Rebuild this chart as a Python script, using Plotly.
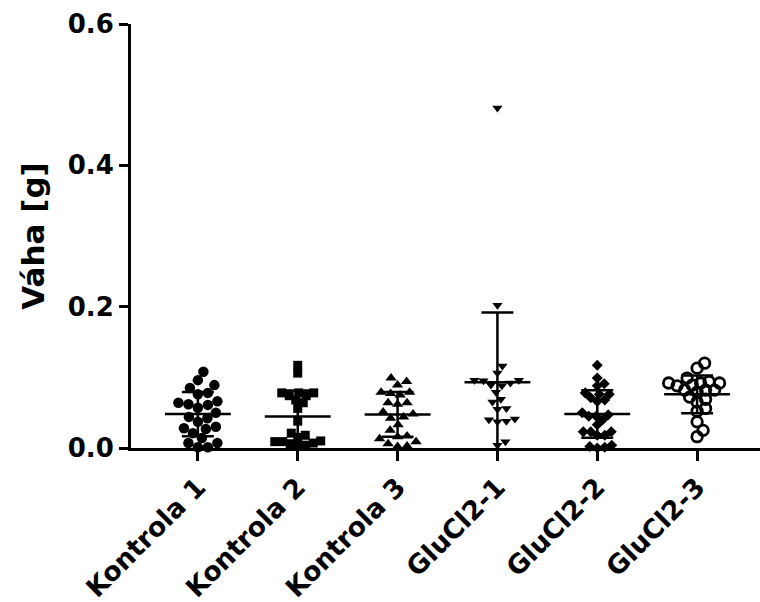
import numpy as np
import plotly.graph_objects as go

categories = ["Kontrola 1", "Kontrola 2", "Kontrola 3", "GluCl2-1", "GluCl2-2", "GluCl2-3"]

kontrola_1 = [0.108, 0.096, 0.089, 0.085, 0.078, 0.076, 0.066, 0.064, 0.062, 0.061,
              0.057, 0.050, 0.044, 0.042, 0.037, 0.030, 0.028, 0.027, 0.021, 0.014,
              0.007, 0.007, 0.001, 0.001]
kontrola_2 = [0.117, 0.106, 0.078, 0.078, 0.078, 0.074, 0.074, 0.068, 0.064, 0.056,
              0.038, 0.021, 0.018, 0.015, 0.010, 0.009, 0.007, 0.009, 0.006, 0.003,
              0.004]
kontrola_3 = [0.099, 0.094, 0.089, 0.079, 0.077, 0.079, 0.075, 0.064, 0.064, 0.062,
              0.051, 0.048, 0.042, 0.044, 0.033, 0.025, 0.016, 0.013, 0.017, 0.009,
              0.006, 0.002, 0.003]
glucl2_1 = [0.481, 0.202, 0.116, 0.106, 0.096, 0.096, 0.092, 0.088, 0.095, 0.089,
            0.079, 0.069, 0.065, 0.056, 0.055, 0.040, 0.037, 0.038, 0.041, 0.009,
            0.004]
glucl2_2 = [0.117, 0.099, 0.091, 0.088, 0.076, 0.076, 0.071, 0.078, 0.068, 0.066,
            0.050, 0.045, 0.040, 0.045, 0.047, 0.033, 0.023, 0.023, 0.023, 0.018,
            0.018, 0.004, 0.002, 0.001, 0.000]
glucl2_3 = [0.120, 0.113, 0.099, 0.089, 0.094, 0.092, 0.092, 0.092, 0.088, 0.082,
            0.082, 0.079, 0.082, 0.072, 0.069, 0.065, 0.056, 0.052, 0.037, 0.025,
            0.016]

groups = [kontrola_1, kontrola_2, kontrola_3, glucl2_1, glucl2_2, glucl2_3]

styles = [
    dict(symbol="circle", size=10.5, color="black", line=dict(width=0)),
    dict(symbol="square", size=9, color="black", line=dict(width=0)),
    dict(symbol="triangle-up", size=10, color="black", line=dict(width=0)),
    dict(symbol="triangle-down", size=9, color="black", line=dict(width=0)),
    dict(symbol="diamond", size=8.5, color="black", line=dict(width=0)),
    dict(symbol="circle-open", size=10.5, color="black", line=dict(width=2.8, color="black")),
]
# collision factor for the swarm layout (how tightly points pack)
pack = [0.95, 0.85, 0.95, 0.95, 0.85, 0.82]

PX_X = 100.0
PX_Y = 424.0 / 0.6


def beeswarm(vals, diam):
    placed = []
    offs = [0.0] * len(vals)
    order = np.argsort(vals)
    for i in order:
        y = vals[i] * PX_Y
        best = None
        for k in range(0, 300):
            for cand in ([0.0] if k == 0 else [k * 0.5, -k * 0.5]):
                ok = True
                for (px, py) in placed:
                    if (px - cand) ** 2 + (py - y) ** 2 < diam ** 2:
                        ok = False
                        break
                if ok:
                    best = cand
                    break
            if best is not None:
                break
        placed.append((best, y))
        offs[i] = best / PX_X
    return offs


fig = go.Figure()

for gi, (vals, st) in enumerate(zip(groups, styles)):
    offs = beeswarm(vals, st["size"] * pack[gi])
    xs = [gi + o for o in offs]
    fig.add_trace(go.Scatter(x=xs, y=vals, mode="markers", marker=st,
                             cliponaxis=False, showlegend=False, hoverinfo="y"))

for gi, vals in enumerate(groups):
    arr = np.array(vals)
    m = arr.mean()
    sd = arr.std(ddof=1)
    lw = 0.33
    cw = 0.16
    xs = [gi - lw, gi + lw, None, gi, gi, None, gi - cw, gi + cw, None, gi - cw, gi + cw]
    ys = [m, m, None, m - sd, m + sd, None, m + sd, m + sd, None, m - sd, m - sd]
    fig.add_trace(go.Scatter(x=xs, y=ys, mode="lines",
                             line=dict(color="black", width=2.5),
                             showlegend=False, hoverinfo="skip"))

FONT = "DejaVu Sans, Liberation Sans, Arial, sans-serif"

fig.update_layout(
    width=760, height=602,
    margin=dict(l=131, r=0, t=24, b=154),
    plot_bgcolor="white", paper_bgcolor="white",
    font=dict(family=FONT, color="black"),
    xaxis=dict(
        range=[-0.67, 5.63],
        tickmode="array", tickvals=list(range(len(categories))), ticktext=categories,
        tickangle=-45,
        tickfont=dict(size=26.5, family=FONT, weight="bold"),
        showline=True, linecolor="black", linewidth=3,
        ticks="outside", ticklen=10, tickwidth=3, tickcolor="black",
        showgrid=False, zeroline=False,
    ),
    yaxis=dict(
        range=[0, 0.6],
        tickvals=[0, 0.2, 0.4, 0.6], ticktext=["0.0", "0.2", "0.4", "0.6"],
        tickfont=dict(size=26, family=FONT, weight="bold"),
        title=dict(text="Váha [g]", font=dict(size=31, family=FONT, weight="bold"), standoff=14),
        showline=True, linecolor="black", linewidth=3,
        ticks="outside", ticklen=9, tickwidth=3, tickcolor="black",
        showgrid=False, zeroline=False,
    ),
)

fig.write_html("out.html")
